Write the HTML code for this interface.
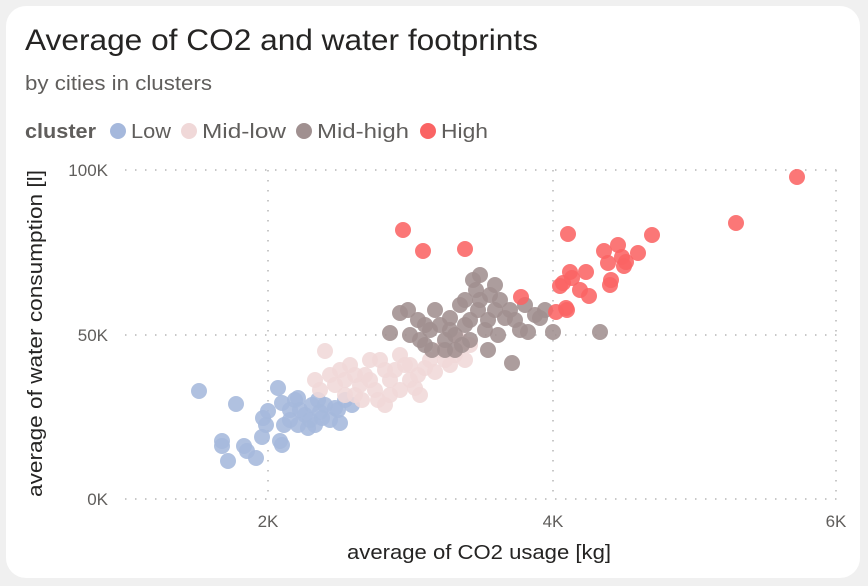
<!DOCTYPE html>
<html><head><meta charset="utf-8"><style>
html,body{margin:0;padding:0;background:#f0f0f0;}
body{width:868px;height:586px;position:relative;overflow:hidden;font-family:"Liberation Sans",sans-serif;}
.card{position:absolute;left:6px;top:6px;width:854px;height:572px;background:#fff;border-radius:20px;}
</style></head><body>
<div class="card"></div>
<svg width="868" height="586" style="position:absolute;left:0;top:0" font-family="Liberation Sans, sans-serif">
<text x="25" y="50" font-size="30" fill="#252423" textLength="513" lengthAdjust="spacingAndGlyphs">Average of CO2 and water footprints</text>
<text x="25" y="90" font-size="20" fill="#605e5c" textLength="187" lengthAdjust="spacingAndGlyphs">by cities in clusters</text>
<text x="25" y="138" font-size="20" font-weight="bold" fill="#605e5c" textLength="71" lengthAdjust="spacingAndGlyphs">cluster</text>
<circle cx="118" cy="131" r="8" fill="#a5b8dc"/><text x="131" y="138" font-size="20" fill="#605e5c" textLength="40" lengthAdjust="spacingAndGlyphs">Low</text>
<circle cx="189" cy="131" r="8" fill="#f0d8d8"/><text x="202" y="138" font-size="20" fill="#605e5c" textLength="84" lengthAdjust="spacingAndGlyphs">Mid-low</text>
<circle cx="304" cy="131" r="8" fill="#a09090"/><text x="317" y="138" font-size="20" fill="#605e5c" textLength="92" lengthAdjust="spacingAndGlyphs">Mid-high</text>
<circle cx="428" cy="131" r="8" fill="#fa6464"/><text x="441" y="138" font-size="20" fill="#605e5c" textLength="47" lengthAdjust="spacingAndGlyphs">High</text>
<g stroke="#c8c8c8" stroke-width="2" stroke-dasharray="1.5,8.5">
<line x1="125" y1="170" x2="840" y2="170"/>
<line x1="125" y1="335" x2="840" y2="335"/>
<line x1="125" y1="499" x2="840" y2="499"/>
<line x1="268" y1="170" x2="268" y2="499"/>
<line x1="553" y1="170" x2="553" y2="499"/>
<line x1="836" y1="170" x2="836" y2="499"/>
</g>
<g font-size="17" fill="#605e5c" text-anchor="end">
<text x="108" y="176">100K</text><text x="108" y="341">50K</text><text x="108" y="505">0K</text>
</g>
<g font-size="17" fill="#605e5c" text-anchor="middle">
<text x="268" y="527">2K</text><text x="553" y="527">4K</text><text x="836" y="527">6K</text>
</g>
<text x="347" y="559" font-size="20" fill="#252423" textLength="264" lengthAdjust="spacingAndGlyphs">average of CO2 usage [kg]</text>
<text transform="translate(42,497) rotate(-90)" font-size="20" fill="#252423" textLength="327" lengthAdjust="spacingAndGlyphs">average of water consumption [l]</text>
<g id="pts"></g>
</svg>
<script>
var d={
"#a5b8dc":[[199,391],[236,404],[222,441],[222,446],[228,461],[244,446],[247,451],[256,458],[262,437],[266,425],[263,418],[268,411],[278,388],[282,403],[284,425],[280,441],[282,445],[290,420],[295,400],[298,398],[300,410],[305,415],[308,428],[312,405],[318,400],[320,412],[325,405],[330,420],[335,408],[340,423],[345,400],[352,405],[338,410],[298,425],[310,420],[322,418],[290,410],[315,425]],
"#f0d8d8":[[325,351],[315,380],[320,390],[330,375],[340,370],[345,380],[350,365],[355,395],[360,385],[365,375],[370,360],[375,390],[378,400],[385,405],[390,380],[395,370],[400,355],[405,365],[410,380],[415,388],[418,375],[425,368],[430,360],[435,372],[440,350],[450,365],[455,355],[460,340],[465,360],[470,345],[362,400],[380,360],[400,390],[420,395],[345,395],[335,385],[390,395],[370,380],[385,370],[410,365],[445,360],[355,375]],
"#a09090":[[390,333],[400,313],[408,310],[410,335],[418,320],[425,345],[430,330],[435,310],[440,325],[445,350],[450,318],[455,335],[460,305],[465,325],[470,340],[473,280],[476,290],[478,310],[480,300],[485,330],[488,320],[490,295],[495,310],[498,335],[500,300],[505,318],[510,310],[515,320],[520,330],[525,305],[528,332],[535,315],[540,318],[545,310],[553,332],[512,363],[600,332],[455,350],[445,340],[465,300],[480,275],[495,285],[420,340],[432,350],[462,345],[488,350],[470,320],[450,330],[425,325]],
"#fa6464":[[403,230],[423,251],[465,249],[521,297],[556,312],[560,286],[563,283],[566,308],[568,234],[570,272],[572,278],[580,290],[586,272],[589,296],[604,251],[608,263],[610,285],[611,280],[618,245],[622,257],[624,266],[626,262],[638,253],[652,235],[736,223],[797,177],[567,310]]};
var g=document.getElementById('pts'),h='';
for(var c in d)d[c].forEach(function(p){h+='<circle cx="'+p[0]+'" cy="'+p[1]+'" r="8" fill="'+c+'" fill-opacity="0.88"/>';});
g.innerHTML=h;
</script>
</body></html>
